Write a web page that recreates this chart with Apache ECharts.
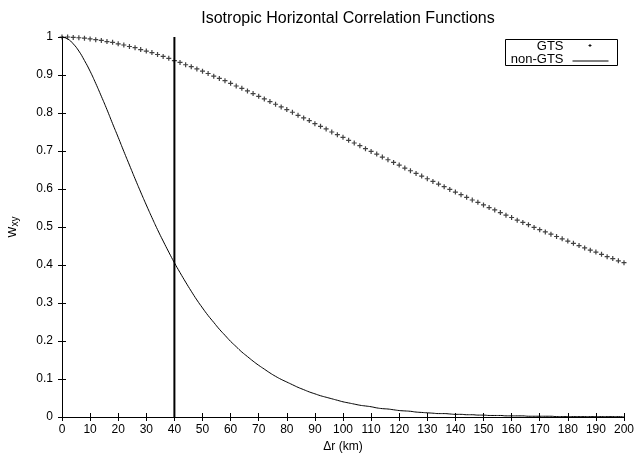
<!DOCTYPE html>
<html>
<head>
<meta charset="utf-8">
<script src="https://cdn.jsdelivr.net/npm/echarts@6/dist/echarts.min.js"></script>
<style>
  html, body { margin: 0; padding: 0; background: #fff; }
  #chart { width: 637px; height: 462px; }
</style>
</head>
<body>
<div id="chart"></div>
<script>
// Separation distance (km), sampled every 2 km from 0 to 200
const distanceKm = [];
for (let r = 0; r <= 200; r += 2) distanceKm.push(r);

// GTS correlation (plotted as '+' points)
const gtsCorr = [
  1.000, 1.000, 0.999, 0.998, 0.997, 0.995, 0.993, 0.991, 0.988, 0.986,
  0.982, 0.979, 0.975, 0.972, 0.967, 0.963, 0.959, 0.954, 0.949, 0.944,
  0.938, 0.933, 0.927, 0.922, 0.916, 0.910, 0.904, 0.897, 0.891, 0.885,
  0.878, 0.871, 0.865, 0.858, 0.851, 0.844, 0.837, 0.830, 0.823, 0.816,
  0.809, 0.802, 0.794, 0.787, 0.780, 0.772, 0.765, 0.758, 0.750, 0.743,
  0.736, 0.728, 0.721, 0.714, 0.706, 0.699, 0.692, 0.684, 0.677, 0.670,
  0.663, 0.655, 0.648, 0.641, 0.634, 0.627, 0.620, 0.613, 0.606, 0.599,
  0.592, 0.585, 0.578, 0.571, 0.565, 0.558, 0.551, 0.545, 0.538, 0.531,
  0.525, 0.518, 0.512, 0.506, 0.499, 0.493, 0.487, 0.481, 0.475, 0.469,
  0.463, 0.457, 0.451, 0.445, 0.439, 0.434, 0.428, 0.422, 0.417, 0.411,
  0.406
];

// non-GTS correlation (plotted as a solid line)
const nonGtsCorr = [
  1.000, 0.995, 0.982, 0.963, 0.938, 0.910, 0.878, 0.844, 0.809, 0.772,
  0.736, 0.699, 0.663, 0.627, 0.592, 0.558, 0.525, 0.493, 0.463, 0.434,
  0.406, 0.380, 0.355, 0.331, 0.308, 0.287, 0.267, 0.249, 0.231, 0.215,
  0.199, 0.185, 0.171, 0.159, 0.147, 0.136, 0.126, 0.116, 0.107, 0.099,
  0.092, 0.085, 0.078, 0.072, 0.066, 0.061, 0.056, 0.052, 0.048, 0.044,
  0.040, 0.037, 0.034, 0.031, 0.029, 0.027, 0.024, 0.022, 0.021, 0.019,
  0.017, 0.016, 0.015, 0.013, 0.012, 0.011, 0.010, 0.009, 0.009, 0.008,
  0.007, 0.007, 0.006, 0.006, 0.005, 0.005, 0.004, 0.004, 0.004, 0.003,
  0.003, 0.003, 0.003, 0.002, 0.002, 0.002, 0.002, 0.002, 0.001, 0.001,
  0.001, 0.001, 0.001, 0.001, 0.001, 0.001, 0.001, 0.001, 0.001, 0.001,
  0.000
];

// Vertical reference line position (km)
const cutoffKm = 40;

const FONT = '"Liberation Sans", Arial, Helvetica, sans-serif';
const INK = '#000';

const zip = (xs, ys) => xs.map((x, i) => [x, ys[i]]);

const chart = echarts.init(document.getElementById('chart'), null, { renderer: 'canvas' });

// small '+' glyph used for the GTS points
const plusSymbol = 'path://M0,1.9H5V3.1H0Z M1.9,0H3.1V5H1.9Z';

const xCommon = {
  type: 'value', min: 0, max: 200, interval: 10,
  axisLine: { show: true, lineStyle: { color: INK, width: 1 } },
  axisTick: { show: true, inside: true, length: 4, lineStyle: { color: INK } },
  splitLine: { show: false }
};
const yCommon = {
  type: 'value', min: 0, max: 1, interval: 0.1,
  axisLine: { show: true, lineStyle: { color: INK, width: 1 } },
  axisTick: { show: true, inside: true, length: 4, lineStyle: { color: INK } },
  splitLine: { show: false }
};

chart.setOption({
  animation: false,
  backgroundColor: '#fff',
  title: {
    text: 'Isotropic Horizontal Correlation Functions',
    left: 343, top: 6, textAlign: 'center',
    textStyle: { fontFamily: FONT, fontSize: 16, fontWeight: 'normal', color: INK }
  },
  grid: { left: 62, right: 13, top: 37, bottom: 45, outerBoundsMode: 'none' },
  xAxis: [
    Object.assign({}, xCommon, {
      position: 'bottom',
      axisLabel: { color: INK, fontFamily: FONT, fontSize: 12, margin: 7 },
      name: 'Δr (km)', nameLocation: 'middle', nameGap: 22,
      nameTextStyle: { color: INK, fontFamily: FONT, fontSize: 12 }
    }),
    Object.assign({}, xCommon, { position: 'top', axisLabel: { show: false } })
  ],
  yAxis: [
    Object.assign({}, yCommon, {
      position: 'left',
      axisLabel: {
        color: INK, fontFamily: FONT, fontSize: 12, margin: 9,
        formatter: v => String(+v.toFixed(1))
      },
      name: '{w|w}{s|xy}', nameLocation: 'middle', nameGap: 42, nameRotate: 90,
      nameTextStyle: {
        color: INK, fontFamily: FONT, fontSize: 13,
        rich: {
          w: { fontFamily: FONT, fontSize: 15, color: INK },
          s: { fontFamily: FONT, fontSize: 10, color: INK, verticalAlign: 'bottom', padding: [6, 0, 0, 0] }
        }
      }
    }),
    Object.assign({}, yCommon, { position: 'right', axisLabel: { show: false } })
  ],
  series: [
    {
      name: 'GTS', type: 'scatter', xAxisIndex: 0, yAxisIndex: 0,
      data: zip(distanceKm, gtsCorr),
      symbol: plusSymbol, symbolSize: 5,
      itemStyle: { color: '#111' }, z: 3
    },
    {
      name: 'non-GTS', type: 'line', xAxisIndex: 0, yAxisIndex: 0,
      data: zip(distanceKm, nonGtsCorr),
      showSymbol: false, smooth: true,
      lineStyle: { color: INK, width: 1 }, z: 2
    },
    {
      name: 'cutoff', type: 'line', xAxisIndex: 0, yAxisIndex: 0,
      data: [[cutoffKm, 0], [cutoffKm, 1]],
      showSymbol: false,
      lineStyle: { color: INK, width: 2 }, z: 4
    }
  ],
  graphic: [
    {
      type: 'group', left: 505, top: 39,
      children: [
        { type: 'rect', shape: { x: 0, y: 0, width: 112, height: 26 },
          style: { fill: '#fff', stroke: INK, lineWidth: 1 } },
        { type: 'text', x: 58, y: 7,
          style: { text: 'GTS', fill: INK, font: '13px ' + FONT, align: 'right', verticalAlign: 'middle' } },
        { type: 'text', x: 58, y: 20,
          style: { text: 'non-GTS', fill: INK, font: '13px ' + FONT, align: 'right', verticalAlign: 'middle' } },
        { type: 'rect', shape: { x: 83, y: 5.5, width: 3, height: 1 }, style: { fill: '#111' } },
        { type: 'rect', shape: { x: 84, y: 4.5, width: 1, height: 3 }, style: { fill: '#111' } },
        { type: 'line', shape: { x1: 67, y1: 21.5, x2: 103, y2: 21.5 },
          style: { stroke: INK, lineWidth: 1 } }
      ]
    }
  ]
});
</script>
</body>
</html>
